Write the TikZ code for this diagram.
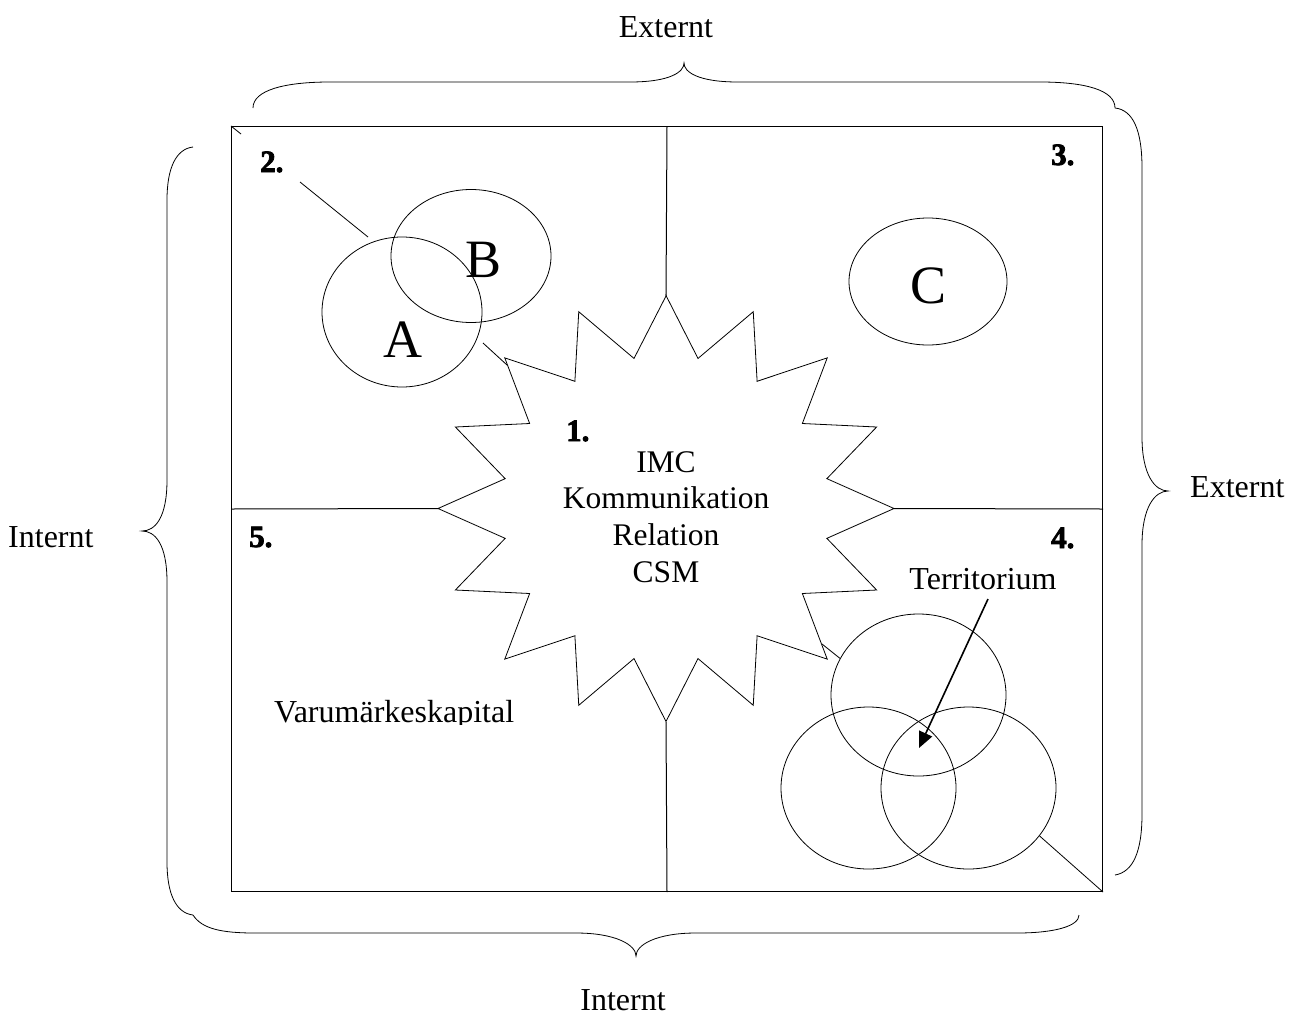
\documentclass[tikz,border=0pt]{standalone}
\usepackage{fontspec}
\setmainfont{Liberation Serif}
\newfontfamily\numfont{Liberation Serif}[BoldFeatures={FakeBold=2.5}]
\usetikzlibrary{shapes.geometric,arrows.meta}
\begin{document}
\begin{tikzpicture}[x=1pt,y=-1pt,
  ln/.style={line width=0.8pt},
  oval/.style={ellipse,draw,line width=0.8pt,inner sep=0pt},
  lbl/.style={font=\fontsize{32}{38}\selectfont, inner sep=0pt},
  mid/.style={font=\fontsize{31.5}{37}\selectfont, inner sep=0pt, anchor=base},
  num/.style={font=\numfont\bfseries\fontsize{31}{36}\selectfont, inner sep=0pt, anchor=base west},
  big/.style={font=\fontsize{54}{60}\selectfont, inner sep=0pt, anchor=base},
  brace/.style={line width=0.8pt}]
\useasboundingbox (0,0) rectangle (1293,1015);

% frame
\node[draw, line width=1pt, minimum width=871pt, minimum height=765pt, inner sep=0pt, anchor=north west] (frame) at (231,126) {};

% star
\coordinate (sttop) at (666,296);
\coordinate (stbot) at (666,722);
\coordinate (stleft) at (438,508.5);
\coordinate (stright) at (894,508.5);
\draw[ln] (666,296) \foreach \k in {0,...,15} {
   -- ({666+164*cos(101.25+22.5*\k)},{508.5-153*sin(101.25+22.5*\k)})
   -- ({666+228*cos(112.5+22.5*\k)},{508.5-213*sin(112.5+22.5*\k)}) } -- cycle;

\draw[line width=1pt] (frame.north) -- (sttop);
\draw[line width=1pt] (stbot) -- (frame.south);
\draw[line width=1pt] (frame.west) -- (stleft);
\draw[line width=1pt] (stright) -- (frame.east);

% corner tick
\coordinate (tick) at (241,134);
\draw[ln] (frame.north west) -- (tick);

% ellipses
\node[oval, minimum width=160pt, minimum height=150pt] (ovA) at (402,312) {};
\node[oval, minimum width=160pt, minimum height=133pt] (ovB) at (471,256) {};
\node[oval, minimum width=158pt, minimum height=127pt] (ovC) at (928,281.5) {};
\node[oval, minimum width=175pt, minimum height=162pt] (ovT) at (918.5,695) {};
\node[oval, minimum width=175pt, minimum height=162pt] (ovL) at (868.5,788) {};
\node[oval, minimum width=175pt, minimum height=162pt] (ovR) at (968.5,788) {};

\node[big] (tA) at (403,357) {A};
\node[big] (tB) at (484,277) {B};
\node[big] (tC) at (928,303) {C};

% numbers
\node[num] (n1) at (566,441) {1.};
\node[num] (n2) at (260,172) {2.};
\node[num] (n3) at (1051,165) {3.};
\node[num] (n4) at (1051,548) {4.};
\node[num] (n5) at (249,547) {5.};

% small connectors
\coordinate (c2a) at (300,182);
\coordinate (c2b) at (368,237);
\draw[ln] (c2a) -- (c2b);
\coordinate (ca1) at (483,343);
\coordinate (ca2) at (507,365);
\draw[ln] (ca1) -- (ca2);
\coordinate (ct1) at (822,644);
\draw[ln] (ovT.155) -- (ct1);
\draw[ln] (ovR.-34) -- (frame.south east);

% center text
\node[mid] (imc) at (666,472) {IMC};
\node[mid] (kom) at (666,508) {Kommunikation};
\node[mid] (rel) at (666,545) {Relation};
\node[mid] (csm) at (666,582) {CSM};

% territorium
\node[lbl, anchor=base] (terr) at (983,589) {Territorium};
\coordinate (arS) at (988,599);
\coordinate (arE) at (919,748);
\draw[line width=1.6pt, -{Triangle[length=16pt,width=14pt]}] (arS) -- (arE);

% Varumaerkeskapital (clipped at baseline)
\begin{scope}
\clip (250,680) rectangle (540,724);
\node[lbl, anchor=base west] (varu) at (274,722) {Varumärkeskapital};
\end{scope}

% outer labels
\node[lbl, anchor=base] (extTop) at (666,37) {Externt};
\node[lbl, anchor=base west] (extRight) at (1190,497) {Externt};
\node[lbl, anchor=base west] (intLeft) at (8,547) {Internt};
\node[lbl, anchor=base] (intBot) at (623,1010) {Internt};

% braces
\draw[brace] (253,108) .. controls (253,90) and (285,82) .. (330,82) -- (630,82)
  .. controls (670,82) and (684,72) .. (684,63)
  .. controls (684,72) and (698,82) .. (738,82) -- (1040,82)
  .. controls (1085,82) and (1115,90) .. (1115,108);
\draw[brace] (1115,108) .. controls (1133,110) and (1142,130) .. (1142,168) -- (1142,437)
  .. controls (1142,475) and (1155,491) .. (1168,491)
  .. controls (1155,491) and (1142,507) .. (1142,545) -- (1142,814)
  .. controls (1142,852) and (1133,872) .. (1115,875);
\draw[brace] (193,147) .. controls (176,149) and (167,168) .. (167,200) -- (167,480)
  .. controls (167,518) and (155,531) .. (142,531)
  .. controls (155,531) and (167,544) .. (167,582) -- (167,862)
  .. controls (167,894) and (176,913) .. (193,915);
\draw[brace] (193,915) .. controls (202,929) and (222,933) .. (255,933) -- (576,933)
  .. controls (616,933) and (636,945) .. (636,956)
  .. controls (636,945) and (656,933) .. (696,933) -- (1017,933)
  .. controls (1055,933) and (1079,926) .. (1079,915);
\end{tikzpicture}
\end{document}
